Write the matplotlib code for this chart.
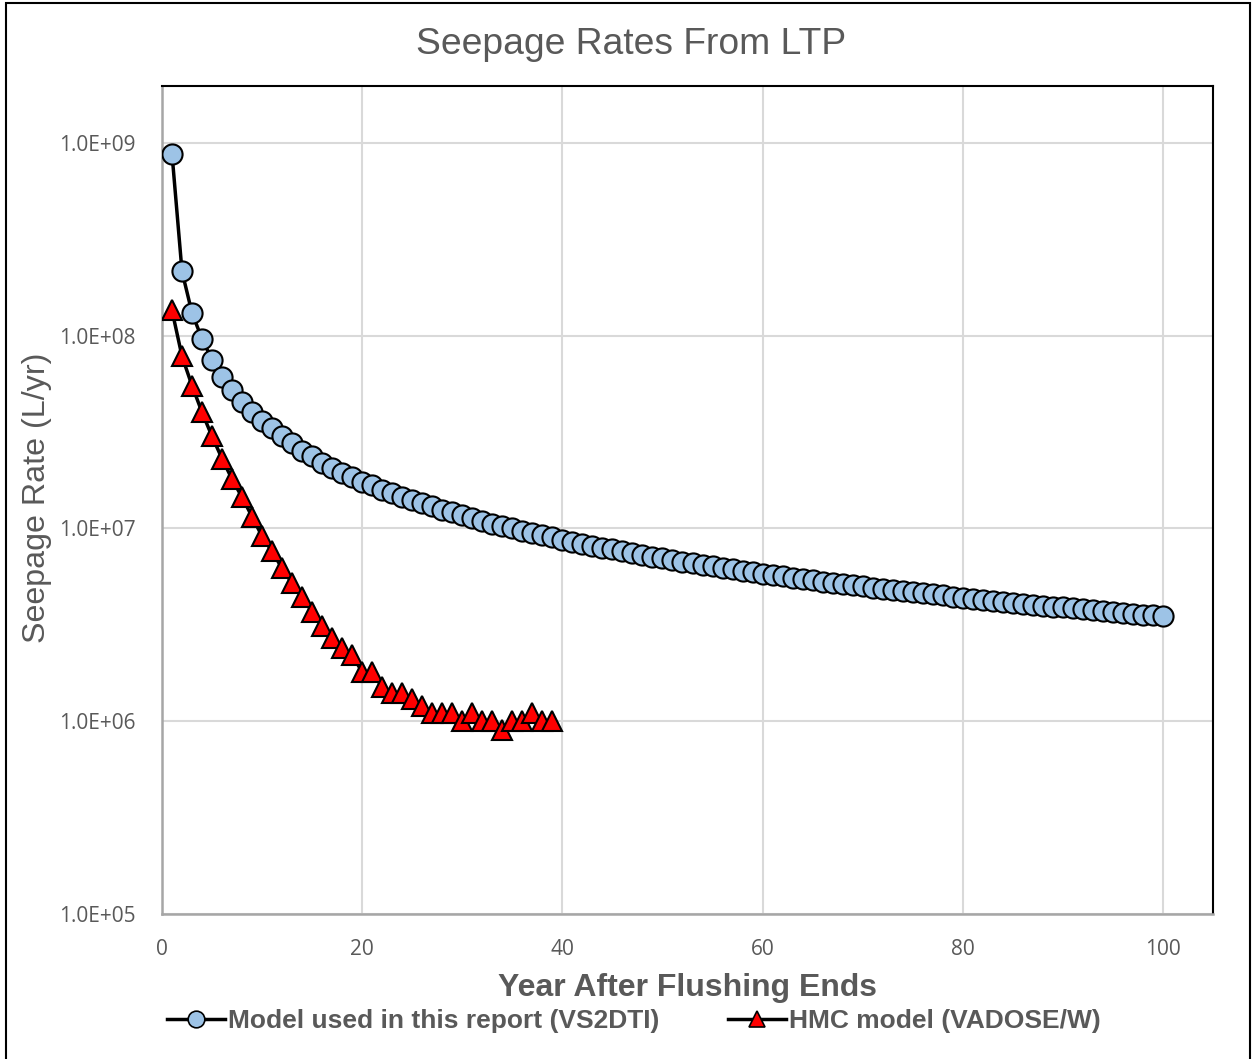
import matplotlib.pyplot as plt
from matplotlib.ticker import FuncFormatter, FixedLocator, NullLocator
from matplotlib.lines import Line2D

# data (year after flushing ends, seepage rate in L/yr)
years_vs2dti = list(range(1, 101))
rate_vs2dti = [
    8.77e8, 2.15e8, 1.31e8, 9.6e7, 7.5e7, 6.1e7, 5.25e7, 4.55e7, 4.0e7, 3.6e7,
    3.3e7, 3.0e7, 2.76e7, 2.53e7, 2.36e7, 2.19e7, 2.06e7, 1.94e7, 1.84e7, 1.75e7,
    1.67e7, 1.59e7, 1.52e7, 1.46e7, 1.40e7, 1.35e7, 1.30e7, 1.25e7, 1.21e7, 1.17e7,
    1.13e7, 1.09e7, 1.06e7, 1.03e7, 1.00e7, 9.72e6, 9.46e6, 9.21e6, 8.97e6, 8.75e6,
    8.54e6, 8.33e6, 8.14e6, 7.95e6, 7.78e6, 7.61e6, 7.45e6, 7.29e6, 7.14e6, 7.00e6,
    6.86e6, 6.73e6, 6.60e6, 6.48e6, 6.36e6, 6.25e6, 6.14e6, 6.03e6, 5.93e6, 5.83e6,
    5.74e6, 5.65e6, 5.56e6, 5.47e6, 5.38e6, 5.30e6, 5.22e6, 5.15e6, 5.07e6, 5.00e6,
    4.93e6, 4.86e6, 4.79e6, 4.73e6, 4.67e6, 4.61e6, 4.55e6, 4.49e6, 4.43e6, 4.38e6,
    4.32e6, 4.27e6, 4.22e6, 4.17e6, 4.12e6, 4.07e6, 4.02e6, 3.98e6, 3.93e6, 3.89e6,
    3.85e6, 3.80e6, 3.76e6, 3.72e6, 3.68e6, 3.65e6, 3.61e6, 3.57e6, 3.54e6, 3.50e6,
]

years_hmc = list(range(1, 40))
rate_hmc = [
    1.35e8, 7.8e7, 5.5e7, 4.0e7, 3.0e7, 2.3e7, 1.8e7, 1.45e7, 1.15e7, 9.1e6,
    7.6e6, 6.2e6, 5.2e6, 4.4e6, 3.7e6, 3.1e6, 2.7e6, 2.4e6, 2.2e6, 1.8e6,
    1.8e6, 1.5e6, 1.4e6, 1.4e6, 1.3e6, 1.2e6, 1.1e6, 1.1e6, 1.1e6, 1.0e6,
    1.1e6, 1.0e6, 1.0e6, 9.0e5, 1.0e6, 1.0e6, 1.1e6, 1.0e6, 1.0e6,
]

x_ticks = [0, 20, 40, 60, 80, 100]
y_ticks = [1e5, 1e6, 1e7, 1e8, 1e9]

label_vs2dti = 'Model used in this report (VS2DTI)'
label_hmc = 'HMC model (VADOSE/W)'

gray = '#595959'
arial = ['Liberation Sans', 'DejaVu Sans']
tickfont = ['Open Sans', 'DejaVu Sans']

fig = plt.figure(figsize=(12.53, 10.59), dpi=100)
ax = fig.add_axes([162 / 1253, 1 - 914 / 1059, (1213 - 162) / 1253, (914 - 86) / 1059])

ax.plot(years_vs2dti, rate_vs2dti, '-o', color='black', lw=2.5,
        markerfacecolor='#9dc3e6', markeredgecolor='black', markeredgewidth=1.5,
        markersize=14.5, zorder=3)
ax.plot(years_hmc, rate_hmc, '-^', color='black', lw=2.5,
        markerfacecolor='#ff0000', markeredgecolor='black', markeredgewidth=1.5,
        markersize=14, zorder=4)

ax.set_yscale('log')
ax.set_xlim(0, 105)
ax.set_ylim(1e5, 1.97e9)
ax.xaxis.set_major_locator(FixedLocator(x_ticks))
ax.yaxis.set_major_locator(FixedLocator(y_ticks))
ax.yaxis.set_minor_locator(NullLocator())
ax.yaxis.set_major_formatter(FuncFormatter(lambda v, p: '%.1E' % v))
ax.grid(True, color='#d9d9d9', lw=1.5, zorder=0)
ax.tick_params(length=0, labelsize=15, labelcolor=gray)
for lab in ax.get_xticklabels() + ax.get_yticklabels():
    lab.set_family(tickfont)
ax.tick_params(axis='x', pad=18)
ax.tick_params(axis='y', pad=19)

for side in ['left', 'bottom']:
    ax.spines[side].set_color('#a6a6a6')
    ax.spines[side].set_linewidth(1.8)
for side in ['top', 'right']:
    ax.spines[side].set_color('black')
    ax.spines[side].set_linewidth(1.5)

fig.text(631 / 1253, 1 - 44 / 1059, 'Seepage Rates From LTP', ha='center', va='center',
         fontsize=26.8, color=gray, family=arial)
fig.text(37 / 1253, 1 - 498 / 1059, 'Seepage Rate (L/yr)', ha='center', va='center',
         rotation=90, fontsize=23.2, color=gray, family=arial)
fig.text(688 / 1253, 1 - 988 / 1059, 'Year After Flushing Ends', ha='center', va='center',
         fontsize=23, color=gray, fontweight='bold', family=arial)

handles = [
    Line2D([], [], color='black', lw=2.5, marker='o', markerfacecolor='#9dc3e6',
           markeredgecolor='black', markeredgewidth=1.2, markersize=12),
    Line2D([], [], color='black', lw=2.5, marker='^', markerfacecolor='#ff0000',
           markeredgecolor='black', markeredgewidth=1.2, markersize=12),
]
leg = fig.legend(handles, [label_vs2dti, label_hmc], loc='center',
                 bbox_to_anchor=(634 / 1253, 1 - 1021 / 1059), ncol=2, frameon=False,
                 handlelength=2.2, handletextpad=0.1, columnspacing=2.6,
                 prop={'family': arial, 'weight': 'bold', 'size': 19})
for t in leg.get_texts():
    t.set_color(gray)

# outer chart border
fig.add_artist(plt.Rectangle((6 / 1253, -0.01), 1244 / 1253, 1 - 3 / 1059 + 0.01,
                             transform=fig.transFigure, fill=False,
                             edgecolor='black', lw=1.5))

fig.savefig('out.png', dpi=100)
